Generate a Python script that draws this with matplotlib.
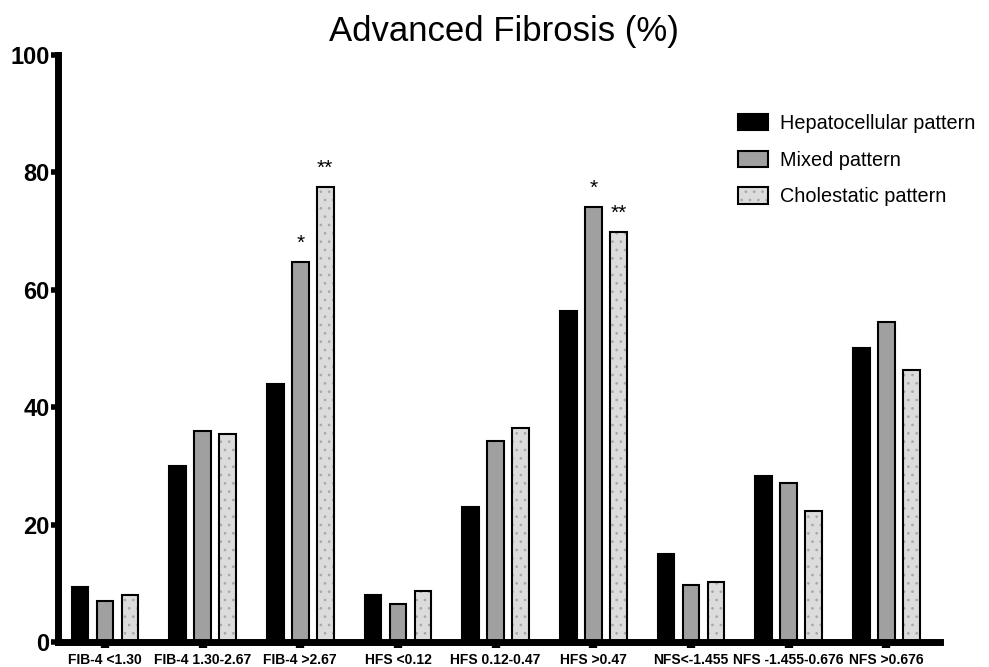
import matplotlib
matplotlib.use('Agg')
import matplotlib.pyplot as plt
import numpy as np
from matplotlib.patches import Patch
from matplotlib.legend_handler import HandlerTuple

plt.rcParams['font.family'] = ['Liberation Sans', 'DejaVu Sans']
plt.rcParams['hatch.linewidth'] = 0.7

categories = ['FIB-4 <1.30', 'FIB-4 1.30-2.67', 'FIB-4 >2.67', 'HFS <0.12',
              'HFS 0.12-0.47', 'HFS >0.47', 'NFS<-1.455', 'NFS -1.455-0.676', 'NFS >0.676']
hepatocellular = [9.4, 30.0, 44.0, 8.0, 23.0, 56.4, 15.0, 28.3, 50.1]
mixed = [7.0, 35.9, 64.8, 6.5, 34.3, 74.1, 9.7, 27.1, 54.5]
cholestatic = [8.0, 35.4, 77.5, 8.7, 36.4, 69.9, 10.3, 22.3, 46.3]
# significance marks: (category index, series index, text)
marks = [(2, 1, '*'), (2, 2, '**'), (5, 1, '*'), (5, 2, '**')]

x = np.arange(len(categories))
off = 0.256
w = 0.17

fig = plt.figure(figsize=(9.89, 6.67), dpi=100)
ax = fig.add_axes([0.0586, 0.0375, 0.892, 0.88])

ax.bar(x - off, hepatocellular, w, color='black', edgecolor='black', linewidth=1.5)
ax.bar(x, mixed, w, color='#a0a0a0', edgecolor='black', linewidth=1.5)
# dotted fill: hatch drawn in grey, then a black outline on top
ax.bar(x + off, cholestatic, w, color='#dcdcdc', edgecolor='#a8a8a8', linewidth=0,
       hatch='..')
ax.bar(x + off, cholestatic, w, fill=False, edgecolor='black', linewidth=1.5)

series = [hepatocellular, mixed, cholestatic]
for ci, si, txt in marks:
    ax.text(x[ci] + (si - 1) * off, series[si][ci] + 1.5, txt, ha='center', va='bottom',
            fontsize=15)

ax.set_xlim(-0.48, 8.55)
ax.set_ylim(0, 100)
ax.set_yticks([0, 20, 40, 60, 80, 100])
ax.set_xticks(x)
ax.set_xticklabels(categories, fontsize=10, fontweight='bold')
for lab in ax.get_yticklabels():
    lab.set_fontweight('bold')
ax.tick_params(axis='y', labelsize=17, width=4, length=5, direction='out', pad=1)
ax.tick_params(axis='x', width=6, length=4, direction='out', pad=4)

for s in ['top', 'right']:
    ax.spines[s].set_visible(False)
for s in ['left', 'bottom']:
    ax.spines[s].set_linewidth(5)

ax.set_title('Advanced Fibrosis (%)', fontsize=25, pad=10, x=0.506)

# legend proxies; the cholestatic one is grey dots with a black outline on top
handles = [Patch(facecolor='black', edgecolor='black', linewidth=1.5),
           Patch(facecolor='#a0a0a0', edgecolor='black', linewidth=1.5),
           (Patch(facecolor='#dcdcdc', edgecolor='#a8a8a8', linewidth=0, hatch='..'),
            Patch(fill=False, edgecolor='black', linewidth=1.5))]
labels = ['Hepatocellular pattern', 'Mixed pattern', 'Cholestatic pattern']
leg = ax.legend(handles, labels, loc='upper right', bbox_to_anchor=(1.06, 0.93),
                frameon=False, fontsize=14.3, handlelength=1.5, handleheight=0.9,
                labelspacing=0.88, handletextpad=0.6,
                handler_map={tuple: HandlerTuple(ndivide=1)})

plt.savefig('out.png', dpi=100)
